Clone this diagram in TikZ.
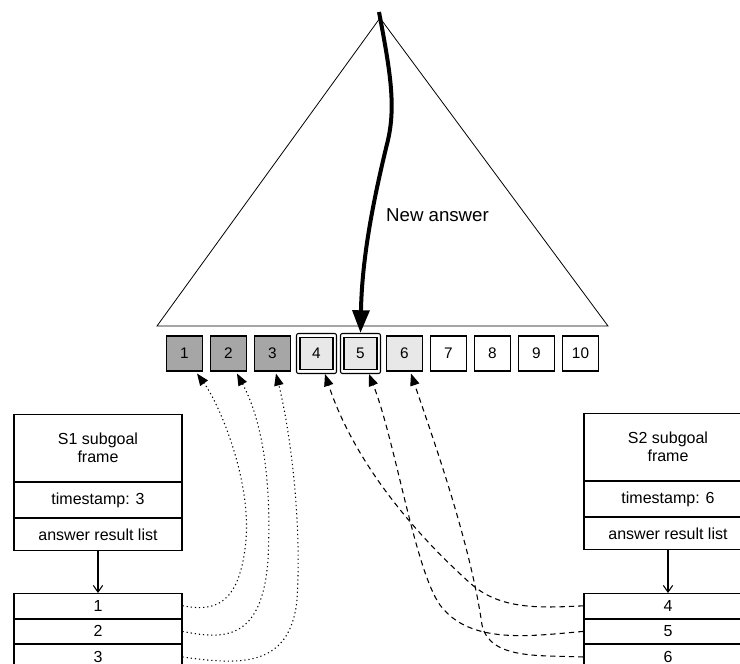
\documentclass[tikz,border=0pt]{standalone}
\usepackage{fontspec}
\setmainfont{Liberation Sans}
\usetikzlibrary{arrows.meta,calc}
\definecolor{darkbox}{HTML}{A6A6A6}
\definecolor{lightbox}{HTML}{E8E8E8}
\begin{document}
\begin{tikzpicture}[x=0.75pt,y=-0.75pt,
  cell/.style={draw,line width=0.8pt,minimum width=27pt,minimum height=26.25pt,inner sep=0pt,font=\fontsize{11.5}{13}\selectfont},
  icell/.style={draw,line width=0.8pt,minimum width=24.75pt,minimum height=24pt,inner sep=0pt,font=\fontsize{11.5}{13}\selectfont},
  ocell/.style={draw,line width=0.8pt,rounded corners=1.5pt,minimum width=30pt,minimum height=30pt,inner sep=0pt},
  fbox/.style={draw,line width=0.8pt,minimum width=126pt,inner sep=0pt,align=center,font=\fontsize{12}{13.5}\selectfont},
  dotconn/.style={line width=0.8pt,dash pattern=on 0.9pt off 2.2pt,-{Triangle[length=9pt,width=7pt]}},
  dashconn/.style={line width=0.8pt,dash pattern=on 4pt off 3pt,-{Triangle[length=9pt,width=7pt]}},
  listarrow/.style={line width=0.8pt,-{Straight Barb[length=5pt,width=7pt,line width=0.8pt]}}
]
\useasboundingbox (0,0) rectangle (740,664);
\clip (0,0) rectangle (740,664);

% triangle
\coordinate (apex) at (380,18);
\coordinate (tl) at (157,326);
\coordinate (tr) at (608,326);
\draw[line width=0.6pt] (apex) -- (tl) -- (tr) -- cycle;
\node[font=\fontsize{14}{16}\selectfont] (newans) at (437.5,215) {New answer};

% answer cells
\node[cell,fill=darkbox] (b1) at (184.5,353.5) {1};
\node[cell,fill=darkbox] (b2) at (228.5,353.5) {2};
\node[cell,fill=darkbox] (b3) at (272.5,353.5) {3};
\node[ocell] (b4o) at (316.5,353.5) {};
\node[icell,fill=lightbox] (b4) at (316.5,353.5) {4};
\node[ocell] (b5o) at (360.5,353.5) {};
\node[icell,fill=lightbox] (b5) at (360.5,353.5) {5};
\node[cell,fill=lightbox] (b6) at (404.5,353.5) {6};
\node[cell] (b7) at (448.5,353.5) {7};
\node[cell] (b8) at (492.5,353.5) {8};
\node[cell] (b9) at (536.5,353.5) {9};
\node[cell] (b10) at (580.5,353.5) {10};

% new answer arrow
\coordinate (start) at (379,12);
\draw[line width=3pt,-{Triangle[length=17pt,width=12.5pt]}] (start) .. controls (390,70) and (396,105) .. (388,140) .. controls (372,205) and (362,260) .. (b5o.north);

% S1 frame
\node[fbox,minimum height=50.25pt,anchor=north] (s1f) at (98,414) {S1 subgoal\\frame};
\node[fbox,minimum height=26.25pt,anchor=north] (s1t) at (s1f.south) {timestamp: 3};
\node[fbox,minimum height=24pt,anchor=north] (s1a) at (s1t.south) {answer result list};
\node[fbox,minimum height=18.4pt,anchor=north] (l1) at (98,593) {1};
\node[fbox,minimum height=18.4pt,anchor=north] (l2) at (l1.south) {2};
\node[fbox,minimum height=18.4pt,anchor=north] (l3) at (l2.south) {3};
\draw[listarrow] (s1a.south) -- (l1.north);

% S2 frame
\node[fbox,minimum height=50.25pt,anchor=north] (s2f) at (668,413) {S2 subgoal\\frame};
\node[fbox,minimum height=26.25pt,anchor=north] (s2t) at (s2f.south) {timestamp: 6};
\node[fbox,minimum height=24pt,anchor=north] (s2a) at (s2t.south) {answer result list};
\node[fbox,minimum height=18.4pt,anchor=north] (r4) at (668,593) {4};
\node[fbox,minimum height=18.4pt,anchor=north] (r5) at (r4.south) {5};
\node[fbox,minimum height=18.4pt,anchor=north] (r6) at (r5.south) {6};
\draw[listarrow] (s2a.south) -- (r4.north);

% tips
\coordinate (t1) at ($(b1.south)+(12.5,2)$);
\coordinate (t2) at ($(b2.south)+(8.5,2)$);
\coordinate (t3) at ($(b3.south)+(3.5,2)$);
\coordinate (t4) at ($(b4o.south)+(8.5,0)$);
\coordinate (t5) at ($(b5o.south)+(8.5,0)$);
\coordinate (t6) at ($(b6.south)+(6.5,2)$);

% dotted connectors
\draw[dotconn] (l1.east) .. controls (215,612) and (240,605) .. (246,540) .. controls (251,480) and (220,405) .. (t1);
\draw[dotconn] (l2.east) .. controls (225,640) and (262,640) .. (268,560) .. controls (272,480) and (262,420) .. (t2);
\draw[dotconn] (l3.east) .. controls (240,665) and (290,668) .. (297,600) .. controls (302,520) and (290,430) .. (t3);

% dashed connectors
\draw[dashconn] (r4.west) .. controls (540,608) and (500,610) .. (470,583) .. controls (400,520) and (350,450) .. (t4);
\draw[dashconn] (r5.west) .. controls (530,636) and (470,645) .. (440,605) .. controls (415,570) and (395,440) .. (t5);
\draw[dashconn] (r6.west) .. controls (540,655) and (490,660) .. (482,625) .. controls (470,540) and (430,430) .. (t6);
\end{tikzpicture}
\end{document}
